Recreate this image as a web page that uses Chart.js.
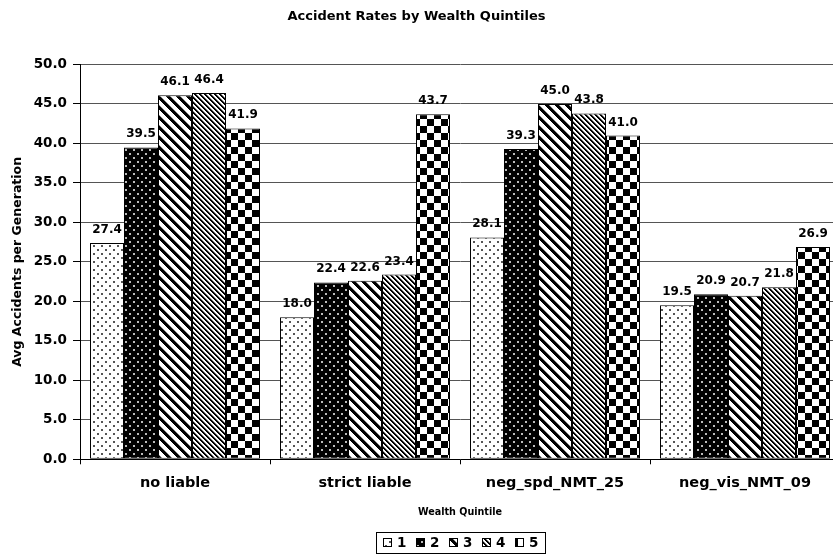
<!DOCTYPE html>
<html><head><meta charset="utf-8">
<script src="https://cdn.jsdelivr.net/npm/chart.js@4/dist/chart.umd.min.js"></script>
<style>
html,body{margin:0;padding:0;background:#fff;overflow:hidden;}
#clip{width:833px;height:558px;overflow:hidden;position:relative;background:#fff;}
#wrap{width:840px;height:558px;position:absolute;left:0;top:0;}
</style></head><body>
<div id="clip"><div id="wrap"><canvas id="c"></canvas></div></div>
<script>
const chartTitle = 'Accident Rates by Wealth Quintiles';
const xTitle = 'Wealth Quintile';
const yTitle = 'Avg Accidents per Generation';
const categories = ['no liable', 'strict liable', 'neg_spd_NMT_25', 'neg_vis_NMT_09'];
const seriesNames = ['1', '2', '3', '4', '5'];
const q1 = [27.4, 18.0, 28.1, 19.5];
const q2 = [39.5, 22.4, 39.3, 20.9];
const q3 = [46.1, 22.6, 45.0, 20.7];
const q4 = [46.4, 23.4, 43.8, 21.8];
const q5 = [41.9, 43.7, 41.0, 26.9];
const seriesValues = [q1, q2, q3, q4, q5];
const yMin = 0, yMax = 50, yStep = 5;

const FONT = "'DejaVu Sans', sans-serif";

function makeTile(w, h, fn) {
  const c = document.createElement('canvas');
  c.width = w; c.height = h;
  const g = c.getContext('2d');
  fn(g, w, h);
  return g.createPattern(c, 'repeat');
}
function dots(bg, fg) {
  return makeTile(8, 8, (g) => {
    g.fillStyle = bg; g.fillRect(0, 0, 8, 8);
    g.fillStyle = fg;
    g.fillRect(1, 1, 2, 2);
    g.fillRect(5, 5, 2, 2);
  });
}
function stripes(P, dark) {
  return makeTile(P, P, (g) => {
    const img = g.createImageData(P, P);
    for (let y = 0; y < P; y++) for (let x = 0; x < P; x++) {
      const m = (((x - y) % P) + P) % P;
      let v;
      if (m < dark) v = 0; else if (m === dark) v = 140; else v = 255;
      const i = (y * P + x) * 4;
      img.data[i] = img.data[i+1] = img.data[i+2] = v; img.data[i+3] = 255;
    }
    g.putImageData(img, 0, 0);
  });
}
function checker(s) {
  return makeTile(2 * s, 2 * s, (g) => {
    g.fillStyle = '#fff'; g.fillRect(0, 0, 2 * s, 2 * s);
    g.fillStyle = '#000';
    g.fillRect(0, 0, s, s); g.fillRect(s, s, s, s);
  });
}
const patterns = [
  dots('#ffffff', '#555555'),
  dots('#000000', '#bbbbbb'),
  stripes(10, 4),
  stripes(5, 2),
  checker(7)
];

const valueLabels = {
  id: 'valueLabels',
  afterDatasetsDraw(chart) {
    const ctx = chart.ctx;
    ctx.save();
    ctx.font = 'bold 12px ' + FONT;
    ctx.fillStyle = '#000';
    ctx.textAlign = 'center';
    ctx.textBaseline = 'alphabetic';
    chart.data.datasets.forEach((ds, di) => {
      const meta = chart.getDatasetMeta(di);
      meta.data.forEach((el, i) => {
        ctx.fillText(ds.data[i].toFixed(1), el.x, el.y - 10);
      });
    });
    ctx.restore();
  }
};

const titleAndLegend = {
  id: 'titleAndLegend',
  afterDraw(chart) {
    const ctx = chart.ctx;
    ctx.save();
    ctx.fillStyle = '#000';
    ctx.font = 'bold 13px ' + FONT;
    ctx.textAlign = 'center';
    ctx.textBaseline = 'alphabetic';
    ctx.fillText(chartTitle, 416.5, 20);
    // legend
    const bx = 376.5, by = 532.5, bw = 169, bh = 21;
    ctx.strokeStyle = '#000';
    ctx.lineWidth = 1;
    ctx.strokeRect(bx, by, bw, bh);
    ctx.font = 'bold 13.5px ' + FONT;
    ctx.textAlign = 'left';
    ctx.textBaseline = 'middle';
    seriesNames.forEach((n, i) => {
      const sx = 383 + 33 * i, sy = 538;
      ctx.fillStyle = chart.data.datasets[i].backgroundColor;
      ctx.fillRect(sx, sy, 9, 9);
      ctx.strokeRect(sx + 0.5, sy + 0.5, 8, 8);
      ctx.fillStyle = '#000';
      ctx.fillText(n, sx + 14, sy + 5);
    });
    ctx.restore();
  }
};

Chart.defaults.font.family = FONT;
Chart.defaults.color = '#000';

new Chart(document.getElementById('c'), {
  type: 'bar',
  data: {
    labels: categories,
    datasets: seriesValues.map((d, i) => ({
      label: seriesNames[i],
      data: d,
      backgroundColor: patterns[i],
      borderColor: '#000',
      borderWidth: 1,
      borderSkipped: false
    }))
  },
  options: {
    responsive: true,
    maintainAspectRatio: false,
    animation: false,
    layout: { padding: { left: 0, right: 0, top: 64.5, bottom: 40 } },
    plugins: { legend: { display: false }, title: { display: false }, tooltip: { enabled: false } },
    datasets: { bar: { categoryPercentage: 170 / 190, barPercentage: 1 } },
    scales: {
      x: {
        grid: { display: true, drawOnChartArea: false, drawTicks: true, tickLength: 5, tickColor: '#000', offset: true },
        border: { display: true, color: '#000', width: 1 },
        ticks: { font: { size: 14.5, weight: 'bold' }, padding: 10, color: '#000', maxRotation: 0, autoSkip: false },
        title: { display: true, text: xTitle, font: { size: 9.6, weight: 'bold' }, padding: { top: 0, bottom: 0 }, color: '#000' },
        afterFit(s) { s.height = 58.7; }
      },
      y: {
        min: yMin, max: yMax,
        ticks: { stepSize: yStep, callback: v => v.toFixed(1), font: { size: 13.5, weight: 'bold' }, padding: 6, color: '#000' },
        grid: { color: '#555', tickColor: '#000', tickLength: 7, drawTicks: true },
        border: { display: true, color: '#000', width: 1 },
        title: { display: true, text: yTitle, font: { size: 12.5, weight: 'bold' }, padding: { top: 10.5, bottom: 0 }, color: '#000' },
        afterFit(s) { s.width = 80; }
      }
    }
  },
  plugins: [valueLabels, titleAndLegend]
});
</script>
</body></html>
